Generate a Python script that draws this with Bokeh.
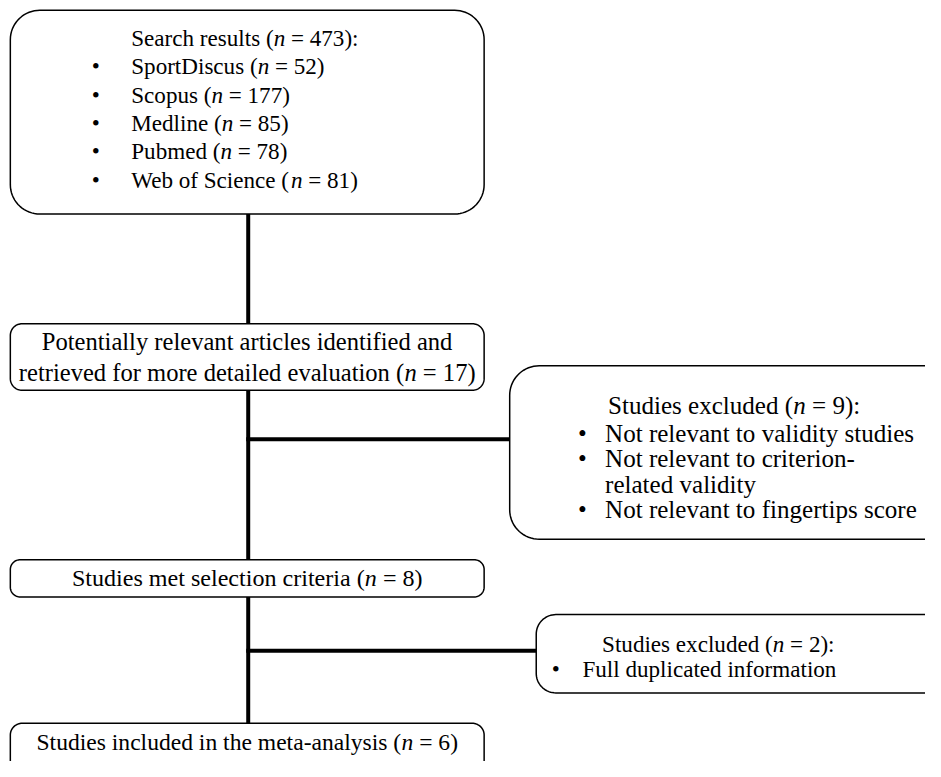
import numpy as np
from bokeh.plotting import figure
from bokeh.models import Range1d, ColumnDataSource
from bokeh.embed import file_html
from bokeh.resources import INLINE
from bokeh.core.properties import value

# ---------------- data ----------------
search_total = 473
databases = ["SportDiscus", "Scopus", "Medline", "Pubmed", "Web of Science"]
database_counts = [52, 177, 85, 78, 81]
retrieved_lines = ["Potentially relevant articles identified and",
                   "retrieved for more detailed evaluation"]
retrieved_n = 17
excluded1_n = 9
excluded1_reasons = [["Not relevant to validity studies"],
                     ["Not relevant to criterion-", "related validity"],
                     ["Not relevant to fingertips score"]]
selected_label = "Studies met selection criteria"
selected_n = 8
excluded2_n = 2
excluded2_reasons = [["Full duplicated information"]]
included_label = "Studies included in the meta-analysis"
included_n = 6

# ---------------- layout ----------------
W, H = 925, 761          # figure pixels
RW, RH = 941, 777        # drawing units
SCALE = W / RW
FONT = "Liberation Serif"

# Times New Roman advance widths (1/1000 em)
TW = {' ': 250, '(': 333, ')': 333, '=': 564, ':': 278, '-': 333, '•': 350,
      'A': 722, 'B': 667, 'C': 667, 'D': 722, 'E': 611, 'F': 556, 'G': 722, 'H': 722,
      'I': 333, 'J': 389, 'K': 722, 'L': 611, 'M': 889, 'N': 722, 'O': 722, 'P': 556,
      'Q': 722, 'R': 667, 'S': 556, 'T': 611, 'U': 722, 'V': 722, 'W': 944, 'X': 722,
      'Y': 722, 'Z': 611,
      'a': 444, 'b': 500, 'c': 444, 'd': 500, 'e': 444, 'f': 333, 'g': 500, 'h': 500,
      'i': 278, 'j': 278, 'k': 500, 'l': 278, 'm': 778, 'n': 500, 'o': 500, 'p': 500,
      'q': 500, 'r': 333, 's': 389, 't': 278, 'u': 500, 'v': 500, 'w': 722, 'x': 500,
      'y': 500, 'z': 444}
for d in "0123456789":
    TW[d] = 500


def tw(s, fs):
    return sum(TW.get(c, 500) for c in s) / 1000.0 * fs


def nsegs(prefix, n, suffix=")"):
    return [(prefix + "(", "normal"), ("n", "italic"), (" = %d%s" % (n, suffix), "normal")]


p = figure(width=W, height=H, output_backend="svg", toolbar_location=None,
           x_range=Range1d(0, RW), y_range=Range1d(RH, 0),
           x_axis_type=None, y_axis_type=None, min_border=0)
p.outline_line_color = None
p.background_fill_color = "white"
p.border_fill_color = "white"


def rrect(x0, y0, x1, y1, r):
    xs, ys = [], []
    corners = [(x1 - r, y0 + r, -90, 0), (x1 - r, y1 - r, 0, 90),
               (x0 + r, y1 - r, 90, 180), (x0 + r, y0 + r, 180, 270)]
    for cx, cy, a0, a1 in corners:
        t = np.radians(np.linspace(a0, a1, 18))
        xs.extend(cx + r * np.cos(t))
        ys.extend(cy + r * np.sin(t))
    return xs, ys


CX = 252
boxes = [(10, 10, 492, 218, 30), (10, 330, 492, 398, 12), (518, 373, 975, 550, 30),
         (10, 571, 492, 609, 10), (545, 627, 975, 707, 20), (10, 738, 492, 800, 12)]

# connectors
vx = [CX, CX, CX]
vy0 = [218, 398, 609]
vy1 = [330, 571, 738]
p.segment(x0=vx, y0=vy0, x1=vx, y1=vy1, line_width=4, line_color="black", line_cap="butt")
p.segment(x0=[CX - 2, CX - 2], y0=[448, 664], x1=[518, 545], y1=[448, 664],
          line_width=4, line_color="black", line_cap="butt")

for (x0, y0, x1, y1, r) in boxes:
    xs, ys = rrect(x0, y0, x1, y1, r)
    p.patch(xs, ys, fill_color="white", line_color="black", line_width=1.5)

# texts
groups = {}


def add_line(x, y, segs, fs, align="left"):
    total = sum(tw(s, fs) for s, _ in segs)
    cur = x - total / 2 if align == "center" else x
    g = groups.setdefault(fs, dict(x=[], y=[], text=[], style=[]))
    for s, st in segs:
        lead = len(s) - len(s.lstrip(" "))
        g["x"].append(cur + tw(" " * lead, fs))
        g["y"].append(y)
        g["text"].append(s.strip(" "))
        g["style"].append(st)
        cur += tw(s, fs)


def add_bullet(x, y, fs):
    g = groups.setdefault(fs, dict(x=[], y=[], text=[], style=[]))
    g["x"].append(x - tw("•", fs) / 2); g["y"].append(y)
    g["text"].append("•"); g["style"].append("normal")


# box 1
F1 = 23.5
add_line(133, 38, nsegs("Search results ", search_total, "):"), F1)
for i, (db, c) in enumerate(zip(databases, database_counts)):
    y = 67 + 29 * i
    add_bullet(97, y, F1)
    add_line(133, y, nsegs(db + " ", c), F1)

# box 2
F2 = 25
add_line(251, 348, [(retrieved_lines[0], "normal")], F2, "center")
add_line(251, 380, nsegs(retrieved_lines[1] + " ", retrieved_n), F2, "center")

# box 4
F4 = 25.5
add_line(618, 414, nsegs("Studies excluded ", excluded1_n, "):"), F4)
y = 442
for reason in excluded1_reasons:
    add_bullet(592, y, F4)
    for ln in reason:
        add_line(615, y, [(ln, "normal")], F4)
        y += 26

# box 3
F3 = 24.5
add_line(251, 590, nsegs(selected_label + " ", selected_n), F3, "center")

# box 5
F5 = 23.5
add_line(612, 657, nsegs("Studies excluded ", excluded2_n, "):"), F5)
y = 683
for reason in excluded2_reasons:
    add_bullet(565, y, F5)
    for ln in reason:
        add_line(592, y, [(ln, "normal")], F5)
        y += 26

# box 6
F6 = 24
add_line(251, 757, nsegs(included_label + " ", included_n), F6, "center")

for fs, g in groups.items():
    src = ColumnDataSource(g)
    p.text(x="x", y="y", text="text", source=src, text_font=value(FONT),
           text_font_size="%.2fpx" % (fs * SCALE), text_font_style="style",
           text_align="left", text_baseline="middle", text_color="black")

open("out.html", "w").write(file_html(p, INLINE))
